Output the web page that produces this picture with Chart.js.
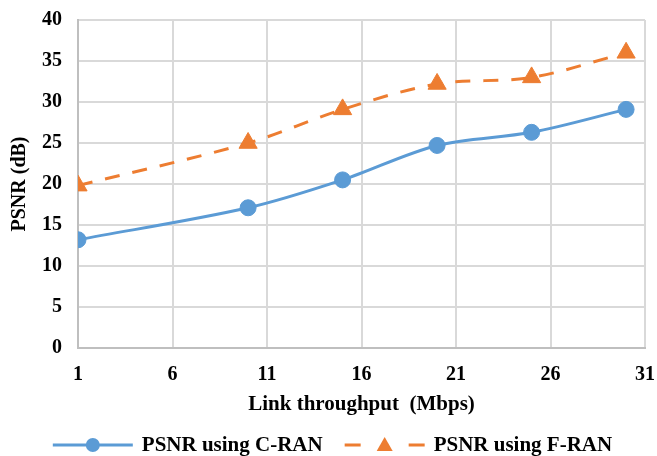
<!DOCTYPE html>
<html>
<head>
<meta charset="utf-8">
<script src="https://cdn.jsdelivr.net/npm/chart.js@4/dist/chart.umd.min.js"></script>
<style>
  html, body { margin: 0; padding: 0; background: #fff; }
  #wrap { width: 657px; height: 456px; }
</style>
</head>
<body>
<div id="wrap"><canvas id="chart" width="657" height="456"></canvas></div>
<script>
const throughput = [1, 10, 15, 20, 25, 30]
const psnrCRAN = [13.2, 17.1, 20.5, 24.7, 26.3, 29.1]
const psnrFRAN = [19.8, 25.0, 29.1, 32.2, 33.0, 36.0]
const xTicks = [1, 6, 11, 16, 21, 26, 31]

const blue = '#5B9BD5'
const orange = '#ED7D31'
const font = 'Liberation Serif'

// excel style legend: line with marker in the middle, drawn under the x title
const excelLegend = {
  id: 'excelLegend',
  afterDraw(c) {
    let ctx = c.ctx
    let y = 445
    let sw = 80, gap = 9, between = 22
    ctx.save()
    ctx.font = 'bold 21px "' + font + '"'
    ctx.textBaseline = 'middle'
    let sets = c.data.datasets
    let total = 0
    sets.forEach((d, i) => {
      total += sw + gap + ctx.measureText(d.label).width
      if (i > 0) total += between
    })
    let x = (c.width - total) / 2 + 4
    sets.forEach(d => {
      ctx.strokeStyle = d.borderColor
      ctx.fillStyle = d.borderColor
      ctx.lineWidth = 3
      ctx.beginPath()
      if (d.borderDash) {
        ctx.moveTo(x, y); ctx.lineTo(x + 16, y)
        ctx.moveTo(x + sw - 16, y); ctx.lineTo(x + sw, y)
      } else {
        ctx.moveTo(x, y); ctx.lineTo(x + sw, y)
      }
      ctx.stroke()
      let mx = x + sw / 2
      ctx.beginPath()
      if (d.pointStyle == 'triangle') {
        ctx.moveTo(mx, y - 8); ctx.lineTo(mx + 8, y + 6); ctx.lineTo(mx - 8, y + 6); ctx.closePath()
      } else {
        ctx.arc(mx, y, 7, 0, Math.PI * 2)
      }
      ctx.fill()
      ctx.fillStyle = '#000'
      ctx.fillText(d.label, x + sw + gap, y + 1)
      x += sw + gap + ctx.measureText(d.label).width + between
    })
    ctx.restore()
  }
}

// keep the plot area where excel had it, labels may overhang
function noOverhang(s) {
  s.paddingTop = 0
  s.paddingBottom = 0
  s.paddingLeft = 0
  s.paddingRight = 0
}

let chart = new Chart(document.getElementById('chart').getContext('2d'), {
  type: 'line',
  data: {
    datasets: [{
      label: 'PSNR using C-RAN',
      data: throughput.map((x, i) => ({x: x, y: psnrCRAN[i]})),
      borderColor: blue,
      backgroundColor: blue,
      borderWidth: 3,
      pointStyle: 'circle',
      pointRadius: 8,
      pointBorderWidth: 1,
      tension: 0.33
    },
    {
      label: 'PSNR using F-RAN',
      data: throughput.map((x, i) => ({x: x, y: psnrFRAN[i]})),
      borderColor: orange,
      backgroundColor: orange,
      borderWidth: 3,
      borderDash: [15, 13],
      pointStyle: 'triangle',
      pointRadius: 10.5,
      pointBorderWidth: 1,
      tension: 0.33
    }]
  },
  options: {
    responsive: false,
    animation: false,
    layout: { autoPadding: false, padding: { left: 0, right: 12, top: 20, bottom: 38 } },
    scales: {
      x: {
        type: 'linear',
        min: 1,
        max: 31,
        afterBuildTicks: s => { s.ticks = xTicks.map(v => ({value: v})) },
        afterFit: s => { s.height = 70; noOverhang(s) },
        grid: { color: '#D9D9D9', lineWidth: 2, drawTicks: false },
        border: { color: '#BFBFBF', width: 2 },
        ticks: { color: '#000', padding: 15, font: { family: font, size: 20, weight: 'bold' }, maxRotation: 0 },
        title: { display: true, text: 'Link throughput  (Mbps)', color: '#000', padding: { top: 0, bottom: 1 }, font: { family: font, size: 21, weight: 'bold' } }
      },
      y: {
        min: 0,
        max: 40,
        ticks: { stepSize: 5, color: '#000', padding: 16, font: { family: font, size: 20, weight: 'bold' } },
        afterFit: s => { s.width = 78; noOverhang(s) },
        grid: { color: '#D9D9D9', lineWidth: 2, drawTicks: false },
        border: { color: '#BFBFBF', width: 2 },
        title: { display: true, text: 'PSNR (dB)', color: '#000', padding: { top: 8, bottom: 0 }, font: { family: font, size: 20, weight: 'bold' } }
      }
    },
    plugins: {
      tooltip: { enabled: false },
      legend: { display: false }
    }
  },
  plugins: [excelLegend]
})
</script>
</body>
</html>
